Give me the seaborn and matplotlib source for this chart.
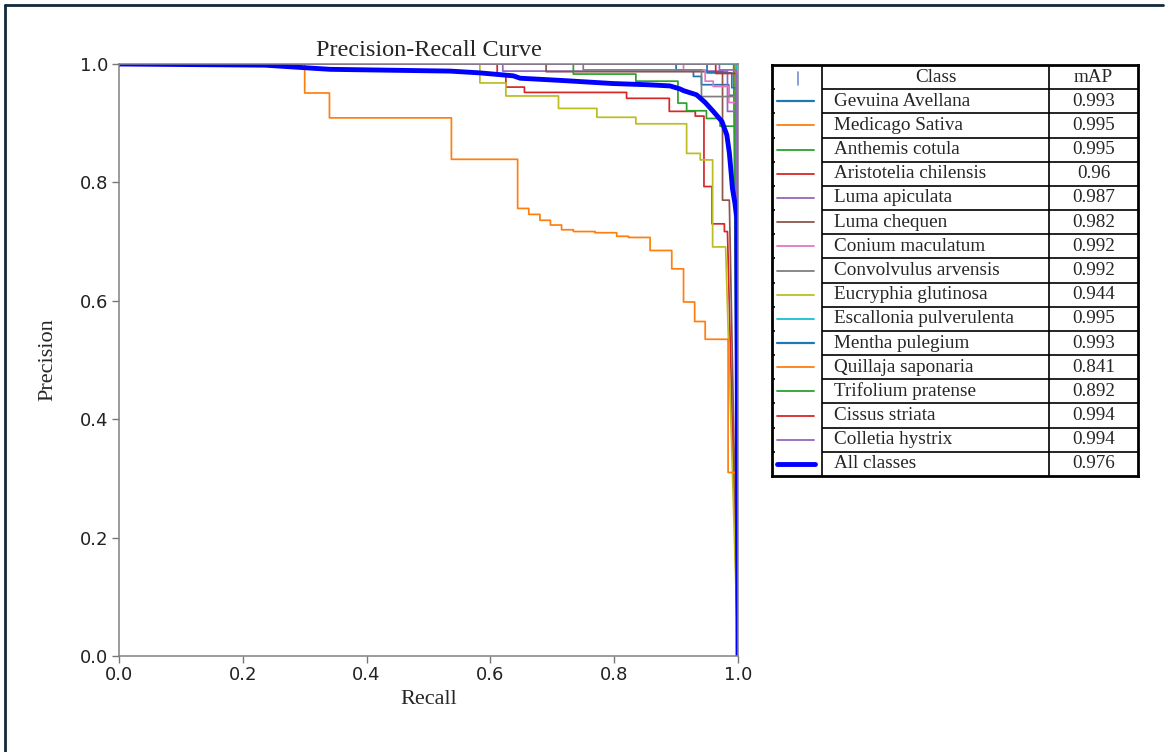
import numpy as np
import pandas as pd
import matplotlib
matplotlib.use('Agg')
import matplotlib.pyplot as plt
import seaborn as sns
from matplotlib.lines import Line2D

# Legend table content
class_names = ['Gevuina Avellana', 'Medicago Sativa', 'Anthemis cotula', 'Aristotelia chilensis',
               'Luma apiculata', 'Luma chequen', 'Conium maculatum', 'Convolvulus arvensis',
               'Eucryphia glutinosa', 'Escallonia pulverulenta', 'Mentha pulegium',
               'Quillaja saponaria', 'Trifolium pratense', 'Cissus striata', 'Colletia hystrix']
map_values = ['0.993', '0.995', '0.995', '0.96', '0.987', '0.982', '0.992', '0.992',
              '0.944', '0.995', '0.993', '0.841', '0.892', '0.994', '0.994']
all_label = 'All classes'
all_map = '0.976'

# Step corners of each class curve (recall where a precision level starts, precision level).
# The last pair is the end point the curve runs to in a straight line.
class_recall = [
    [0, 0.900, 0.928, 0.941, 0.985, 0.997, 1.0],
    [0, 0.995, 1.0],
    [0, 0.993, 1.0],
    [0, 0.611, 0.625, 0.655, 0.820, 0.889, 0.931, 0.945, 0.958, 0.978, 0.983, 1.0],
    [0, 0.620, 0.983, 0.997, 1.0],
    [0, 0.690, 0.975, 0.986, 1.0],
    [0, 0.912, 0.947, 0.960, 0.985, 0.997, 1.0],
    [0, 0.750, 0.941, 0.997, 1.0],
    [0, 0.583, 0.625, 0.710, 0.772, 0.835, 0.917, 0.939, 0.959, 0.980, 1.0],
    [0, 0.997, 1.0],
    [0, 0.950, 0.990, 0.997, 1.0],
    [0, 0.300, 0.340, 0.537, 0.644, 0.662, 0.680, 0.697, 0.715, 0.734, 0.769, 0.804,
     0.823, 0.858, 0.893, 0.912, 0.930, 0.947, 0.984, 0.996, 1.0],
    [0, 0.734, 0.835, 0.903, 0.917, 0.949, 0.971, 0.998, 1.0],
    [0, 0.964, 0.998, 1.0],
    [0, 0.970, 0.997, 1.0],
]
class_precision = [
    [1.0, 0.990, 0.979, 0.965, 0.947, 0.947, 0.0],
    [1.0, 1.0, 0.0],
    [1.0, 1.0, 0.0],
    [1.0, 0.981, 0.961, 0.952, 0.942, 0.920, 0.912, 0.793, 0.730, 0.717, 0.717, 0.0],
    [1.0, 0.988, 0.920, 0.920, 0.0],
    [1.0, 0.987, 0.770, 0.770, 0.0],
    [1.0, 0.990, 0.971, 0.962, 0.935, 0.935, 0.0],
    [1.0, 0.990, 0.945, 0.945, 0.0],
    [1.0, 0.968, 0.946, 0.925, 0.910, 0.899, 0.849, 0.838, 0.691, 0.691, 0.0],
    [1.0, 1.0, 0.0],
    [1.0, 0.985, 0.960, 0.960, 0.0],
    [1.0, 0.951, 0.909, 0.839, 0.756, 0.746, 0.736, 0.728, 0.720, 0.717, 0.715, 0.709,
     0.707, 0.685, 0.654, 0.598, 0.565, 0.535, 0.310, 0.310, 0.0],
    [1.0, 0.983, 0.971, 0.934, 0.921, 0.908, 0.895, 0.895, 0.0],
    [1.0, 0.984, 0.984, 0.0],
    [1.0, 0.990, 0.990, 0.0],
]

# Mean curve over all classes
all_recall = [0, 0.236, 0.341, 0.535, 0.583, 0.637, 0.648, 0.718, 0.798, 0.853, 0.890, 0.906,
              0.912, 0.933, 0.947, 0.960, 0.974, 0.982, 0.986, 0.989, 0.991, 0.995, 0.998, 1.0]
all_precision = [1.0, 0.998, 0.991, 0.988, 0.985, 0.980, 0.976, 0.972, 0.967, 0.965, 0.963, 0.958,
                 0.955, 0.948, 0.935, 0.920, 0.903, 0.880, 0.850, 0.815, 0.790, 0.765, 0.740, 0.0]

ticks = [0.0, 0.2, 0.4, 0.6, 0.8, 1.0]


def step_curve(r, p):
    xs, ys = [], []
    for i in range(len(r) - 2):
        xs += [r[i], r[i + 1]]
        ys += [p[i], p[i]]
    xs += [r[-2], r[-1]]
    ys += [p[-2], p[-1]]
    return pd.DataFrame({'Recall': xs, 'Precision': ys})


sns.set_style('ticks')
plt.rcParams['font.family'] = ['DejaVu Sans']
serif = 'Liberation Serif'
W, H = 1167, 752

fig = plt.figure(figsize=(W / 100, H / 100), dpi=100)
ax = fig.add_axes([119 / W, 1 - 656 / H, (738 - 119) / W, (656 - 64) / H])

colors = sns.color_palette('tab10', 10)
for i in range(len(class_names)):
    df = step_curve(class_recall[i], class_precision[i])
    sns.lineplot(data=df, x='Recall', y='Precision', sort=False, estimator=None,
                 color=colors[i % 10], lw=1.25, ax=ax)

all_df = pd.DataFrame({'Recall': all_recall, 'Precision': all_precision})
sns.lineplot(data=all_df, x='Recall', y='Precision', sort=False, estimator=None,
             color='#0000ff', lw=3.5, ax=ax)

ax.set_xlim(0, 1)
ax.set_ylim(0, 1)
ax.set_xticks(ticks)
ax.set_yticks(ticks)
ax.set_xticklabels([f'{t:.1f}' for t in ticks])
ax.set_yticklabels([f'{t:.1f}' for t in ticks])
ax.tick_params(labelsize=13, color='#777777', labelcolor='#222222', length=5, width=1, pad=2.5)
for s in ax.spines.values():
    s.set_color('#808080')
    s.set_linewidth(1.1)
ax.set_xlabel('Recall', family=serif, fontsize=16, labelpad=4)
ax.set_ylabel('Precision', family=serif, fontsize=16, labelpad=16)
ax.set_title('Precision-Recall Curve', family=serif, fontsize=17.5, pad=6)

# legend drawn as a table
tab = fig.add_axes([772 / W, 1 - 476 / H, (1138 - 772) / W, (476 - 65) / H])
tab.set_xlim(0, 366)
tab.set_ylim(17, 0)
tab.set_xticks([])
tab.set_yticks([])
for s in tab.spines.values():
    s.set_color('black')
    s.set_linewidth(2)
tab.vlines([50, 277], 0, 17, color='black', lw=1.2)
tab.hlines(range(1, 17), 50, 366, color='black', lw=1.2)
tab.hlines(range(1, 17), 0, 2.5, color='black', lw=1.2)

fs = 13.8
tab.text(163.5, 0.5, 'Class', family=serif, fontsize=fs, ha='center', va='center')
tab.text(321.5, 0.5, 'mAP', family=serif, fontsize=fs, ha='center', va='center')
tab.plot([26, 26], [0.28, 0.83], color='#7b8fcf', lw=1.2)
for i, (name, val) in enumerate(zip(class_names, map_values)):
    y = i + 1.5
    tab.plot([5, 42], [y, y], color=colors[i % 10], lw=1.6 if i % 10 == 0 else 1.3)
    tab.text(62, y, name, family=serif, fontsize=fs, ha='left', va='center')
    tab.text(321.5, y, val, family=serif, fontsize=fs, ha='center', va='center')
y = len(class_names) + 1.5
tab.plot([5, 43], [y, y], color='#0000ff', lw=3.5)
tab.text(62, y, all_label, family=serif, fontsize=fs, ha='left', va='center')
tab.text(321.5, y, all_map, family=serif, fontsize=fs, ha='center', va='center')

# outer frame (only top and left edges are visible)
frame = '#14293b'
fig.add_artist(Line2D([4.5 / W, 1163 / W], [1 - 5.3 / H, 1 - 5.3 / H],
                      transform=fig.transFigure, color=frame, lw=2))
fig.add_artist(Line2D([5.3 / W, 5.3 / W], [0, 1 - 4.5 / H],
                      transform=fig.transFigure, color=frame, lw=2))

fig.savefig('out.png', dpi=100)
